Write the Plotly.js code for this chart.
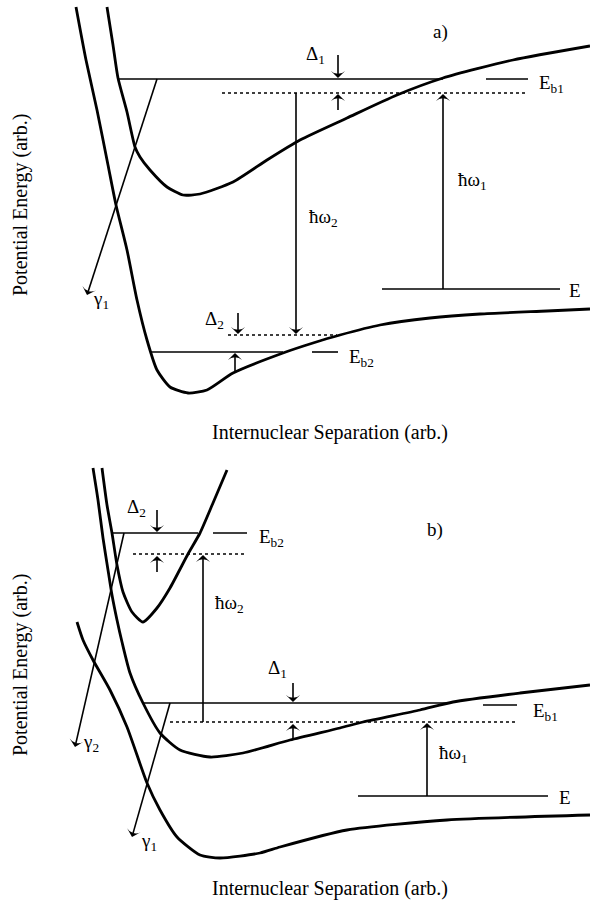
<!DOCTYPE html>
<html>
<head>
<meta charset="utf-8">
<script src="https://cdn.plot.ly/plotly-3.0.1.min.js"></script>
<style>html,body{margin:0;padding:0;background:#fff;}#chart{width:590px;height:906px;}</style>
</head>
<body>
<div id="chart"></div>
<script>
// ---------- Panel a) ----------
const aLowerX = [76, 86, 97, 108, 116, 127, 137, 147, 157, 170, 188, 207, 233, 283, 313, 340, 380, 430, 480, 547, 590];
const aLowerY = [7, 60, 110, 165, 205, 250, 300, 340, 370, 387, 393, 390, 373, 353, 343, 335, 325, 318, 314, 311, 309];
const aUpperX = [107, 113, 118, 127, 135, 140, 150, 167, 183, 200, 233, 267, 300, 347, 397, 443, 513, 590];
const aUpperY = [7, 45, 78, 112, 147, 157, 170, 187, 195, 194, 182, 160, 140, 118, 95, 78, 60, 46];
const aLevelY  = [79, 79, 93, 289, 352, 352, 335];
const aLevelX0 = [119, 486, 222, 382, 150, 312, 228];
const aLevelX1 = [443, 528, 525, 560, 283, 338, 337];
const aLevelDotted = [false, false, true, false, false, false, true];
const aArrowTailX = [338, 338, 296, 443, 238, 235, 157];
const aArrowTailY = [55, 110, 93, 289, 313, 372, 79];
const aArrowHeadX = [338, 338, 296, 443, 238, 235, 87];
const aArrowHeadY = [78, 94, 334, 94, 334, 353, 295];
const aLabels = ['Δ<sub>1</sub>', 'E<sub>b1</sub>', 'a)', 'ħω<sub>2</sub>', 'ħω<sub>1</sub>', 'E', 'E<sub>b2</sub>', 'Δ<sub>2</sub>', 'γ<sub>1</sub>'];
const aLabelX = [304, 537, 440, 307, 456, 567, 347, 203, 91];
const aLabelY = [55, 84, 32, 218, 181, 290, 358, 320, 300];
const aLabelAnchor = ['left', 'left', 'center', 'left', 'left', 'left', 'left', 'left', 'left'];

// ---------- Panel b) ----------
const bMiddleX = [93, 98, 103, 108, 112, 117, 122, 130, 143, 160, 180, 210, 243, 290, 340, 363, 420, 453, 520, 590];
const bMiddleY = [468, 500, 538, 570, 595, 620, 642, 673, 703, 733, 750, 757, 753, 740, 728, 722, 710, 702, 693, 685];
const bNarrowX = [102, 107, 112, 117, 123, 132, 143, 157, 170, 188, 200, 213, 227];
const bNarrowY = [468, 505, 533, 565, 592, 612, 622, 608, 588, 554, 533, 503, 470];
const bLowerX = [77, 83, 93, 110, 127, 147, 160, 177, 200, 220, 260, 280, 347, 447, 590];
const bLowerY = [622, 640, 660, 690, 727, 783, 810, 837, 855, 858, 853, 847, 830, 820, 815];
const bLevelY  = [533, 533, 554, 703, 705, 722, 796];
const bLevelX0 = [112, 213, 133, 143, 483, 170, 358];
const bLevelX1 = [198, 247, 245, 447, 517, 515, 548];
const bLevelDotted = [false, false, true, false, false, true, false];
const bArrowTailX = [157, 157, 203, 293, 293, 427, 124, 170];
const bArrowTailY = [510, 572, 722, 683, 740, 796, 533, 703];
const bArrowHeadX = [157, 157, 203, 293, 293, 427, 75, 132];
const bArrowHeadY = [532, 556, 555, 702, 724, 723, 747, 837];
const bLabels = ['Δ<sub>2</sub>', 'E<sub>b2</sub>', 'b)', 'ħω<sub>2</sub>', 'Δ<sub>1</sub>', 'E<sub>b1</sub>', 'ħω<sub>1</sub>', 'E', 'γ<sub>2</sub>', 'γ<sub>1</sub>'];
const bLabelX = [125, 257, 435, 213, 266, 531, 437, 557, 81, 139];
const bLabelY = [508, 538, 530, 604, 669, 712, 754, 797, 743, 842];
const bLabelAnchor = ['left', 'left', 'center', 'left', 'left', 'left', 'left', 'left', 'left', 'left'];

// ---------- Axis titles ----------
const xTitle = 'Internuclear Separation (arb.)';
const yTitle = 'Potential Energy (arb.)';
const xTitleX = [330, 330];
const xTitleY = [432, 888];
const yTitleX = [20, 20];
const yTitleY = [205, 665];

const FONT = '"Liberation Serif", "Times New Roman", Times, serif';
const traces = [];
const annotations = [];

function axes(yaxis) { return {xaxis: yaxis === 'y' ? 'x' : 'x2', yaxis: yaxis}; }

function curve(xs, ys, yaxis) {
  traces.push(Object.assign({x: xs, y: ys, mode: 'lines',
    line: {color: '#000', width: 2.8, shape: 'spline', smoothing: 0.6}, hoverinfo: 'skip', showlegend: false}, axes(yaxis)));
}
function levels(ys, x0s, x1s, dotted, yaxis) {
  for (let i = 0; i < ys.length; i++) {
    traces.push(Object.assign({x: [x0s[i], x1s[i]], y: [ys[i], ys[i]],
      mode: 'lines', line: {color: '#000', width: 1.6, dash: dotted[i] ? 'dot' : 'solid'},
      hoverinfo: 'skip', showlegend: false}, axes(yaxis)));
  }
}
function arrows(tx, ty, hx, hy, yaxis) {
  for (let i = 0; i < tx.length; i++) {
    traces.push(Object.assign({x: [tx[i], hx[i]], y: [ty[i], hy[i]], mode: 'lines+markers',
      line: {color: '#000', width: 1.6},
      marker: {symbol: ['circle', 'arrow-wide'], size: [0, 10], angleref: 'previous', color: '#000', opacity: 1,
               line: {width: 0}},
      hoverinfo: 'skip', showlegend: false}, axes(yaxis)));
  }
}
function labels(txt, xs, ys, anchors, yaxis) {
  const xr = yaxis === 'y' ? 'x' : 'x2';
  for (let i = 0; i < txt.length; i++) {
    annotations.push({x: xs[i], y: ys[i], xref: xr, yref: yaxis, text: txt[i], showarrow: false,
      xanchor: anchors[i], yanchor: 'middle', font: {family: FONT, size: 19, color: '#000'}});
  }
}

curve(aLowerX, aLowerY, 'y');
curve(aUpperX, aUpperY, 'y');
levels(aLevelY, aLevelX0, aLevelX1, aLevelDotted, 'y');
arrows(aArrowTailX, aArrowTailY, aArrowHeadX, aArrowHeadY, 'y');
labels(aLabels, aLabelX, aLabelY, aLabelAnchor, 'y');

curve(bMiddleX, bMiddleY, 'y2');
curve(bNarrowX, bNarrowY, 'y2');
curve(bLowerX, bLowerY, 'y2');
levels(bLevelY, bLevelX0, bLevelX1, bLevelDotted, 'y2');
arrows(bArrowTailX, bArrowTailY, bArrowHeadX, bArrowHeadY, 'y2');
labels(bLabels, bLabelX, bLabelY, bLabelAnchor, 'y2');

const yrefs = ['y', 'y2'];
for (let i = 0; i < 2; i++) {
  const xr = i === 0 ? 'x' : 'x2';
  annotations.push({x: xTitleX[i], y: xTitleY[i], xref: xr, yref: yrefs[i], text: xTitle, showarrow: false,
    xanchor: 'center', yanchor: 'middle', font: {family: FONT, size: 20, color: '#000'}});
  annotations.push({x: yTitleX[i], y: yTitleY[i], xref: xr, yref: yrefs[i], text: yTitle, showarrow: false,
    textangle: -90, xanchor: 'center', yanchor: 'middle', font: {family: FONT, size: 20, color: '#000'}});
}

const hidden = {visible: false, showgrid: false, zeroline: false, fixedrange: true};
const layout = {
  width: 590, height: 906,
  margin: {l: 0, r: 0, t: 0, b: 0},
  paper_bgcolor: '#fff', plot_bgcolor: '#fff',
  showlegend: false,
  xaxis:  Object.assign({}, hidden, {domain: [0, 1], range: [0, 590], anchor: 'y'}),
  yaxis:  Object.assign({}, hidden, {domain: [0.5, 1], range: [453, 0], anchor: 'x'}),
  xaxis2: Object.assign({}, hidden, {domain: [0, 1], range: [0, 590], anchor: 'y2'}),
  yaxis2: Object.assign({}, hidden, {domain: [0, 0.5], range: [906, 453], anchor: 'x2'}),
  annotations: annotations
};
Plotly.newPlot('chart', traces, layout, {displayModeBar: false, staticPlot: true});
</script>
</body>
</html>
